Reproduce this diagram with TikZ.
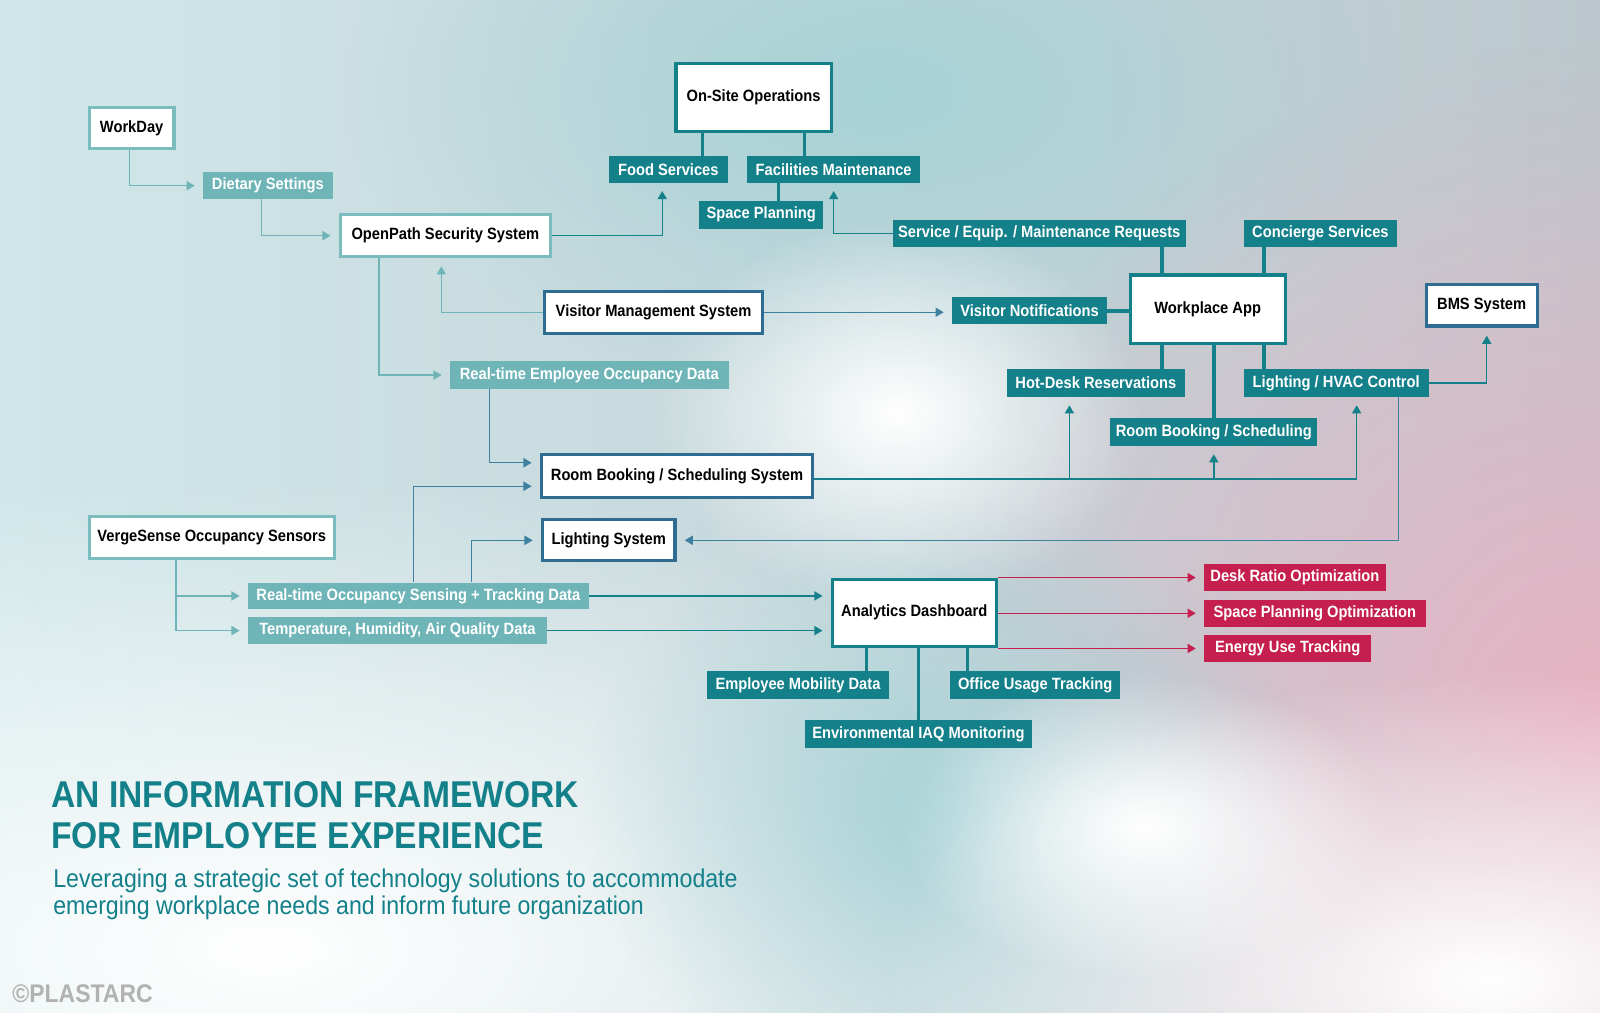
\documentclass[tikz,border=0pt]{standalone}
\usepackage{fontspec}
\setmainfont{Liberation Sans}[FakeStretch=0.9]
\usetikzlibrary{arrows.meta,calc,positioning,fadings}
\definecolor{darkteal}{HTML}{13808A}
\definecolor{lightteal}{HTML}{6FB5B8}
\definecolor{lightedge}{HTML}{7BBCBF}
\definecolor{steel}{HTML}{2E6D91}
\definecolor{steelline}{HTML}{3F7FA0}
\definecolor{crimson}{HTML}{C41F4E}
\definecolor{bgl}{HTML}{D0E7E9}
\definecolor{bgm}{HTML}{A7D2D6}
\definecolor{bgr}{HTML}{BCC8CD}
\definecolor{bgpink}{HTML}{E8B4C4}
\tikzfading[name=glow, inner color=transparent!0, outer color=transparent!100]

\begin{document}
\begin{tikzpicture}[x=1pt,y=-1pt,
  every node/.style={font=\fontsize{16}{19}\selectfont\bfseries, inner sep=3pt},
  sz/.style 2 args={minimum width=#1pt, minimum height=#2pt},
  box/.style={draw=#1, line width=3pt, fill=white, text=black},
  darklab/.style={fill=darkteal, text=white},
  lightlab/.style={fill=lightteal, text=white},
  redlab/.style={fill=crimson, text=white},
  stub/.style={draw=darkteal, line width=3.5pt},
  conn/.style={line width=1.4pt, -{Triangle[length=8pt,width=9pt]}, shorten >=8pt},
  lightconn/.style={conn, lightteal},
  tealconn/.style={conn, darkteal},
  steelconn/.style={conn, steelline},
  redconn/.style={conn, crimson}]
\useasboundingbox (0,0) rectangle (1568,992);
\shade[left color=bgl, middle color=bgm, right color=bgr] (0,0) rectangle (1568,992);
\fill[bgm, path fading=glow] (860,90) ellipse (520 and 300);
\fill[bgpink, path fading=glow] (1568,700) ellipse (680 and 660);
\fill[white, path fading=glow] (260,930) ellipse (1050 and 460);
\fill[bgm, path fading=glow] (930,790) ellipse (360 and 300);
\fill[white, path fading=glow] (880,405) ellipse (240 and 190);
\fill[white, path fading=glow] (1460,960) ellipse (600 and 300);
\fill[white, path fading=glow] (1120,810) ellipse (240 and 150);

\node[box=lightedge, sz={83}{40}] (workday) at (129,125.5) {WorkDay};
\node[lightlab, sz={127}{26}] (dietary) at (262.5,182) {Dietary Settings};
\node[box=lightedge, sz={206}{41}] (openpath) at (436.5,231) {OpenPath Security System};
\node[box=darkteal, sz={152}{66}] (onsite) at (738.5,95.5) {On-Site Operations};
\node[darklab, sz={116}{26}] (food) at (655,166) {Food Services};
\node[darklab, sz={170}{26}] (facilities) at (817,166) {Facilities Maintenance};
\node[darklab, sz={122}{27}] (spaceplan) at (746,210.5) {Space Planning};
\node[darklab, sz={287}{26}] (servicereq) at (1018.5,229) {Service / Equip. / Maintenance Requests};
\node[darklab, sz={150}{26}] (concierge) at (1294,229) {Concierge Services};
\node[box=steel, sz={214}{41}] (vms) at (640.5,306) {Visitor Management System};
\node[darklab, sz={152}{27}] (visitornotif) at (1009,304.5) {Visitor Notifications};
\node[box=darkteal, sz={152}{67}] (workplace) at (1183.5,303) {Workplace App};
\node[box=steel, sz={109}{41}] (bms) at (1452,299) {BMS System};
\node[lightlab, sz={273}{27}] (empocc) at (577.5,367.5) {Real-time Employee Occupancy Data};
\node[darklab, sz={174}{27}] (hotdesk) at (1074,375.5) {Hot-Desk Reservations};
\node[darklab, sz={181}{27}] (hvac) at (1309.5,375.5) {Lighting / HVAC Control};
\node[darklab, sz={203}{27}] (roomsched) at (1189.5,423.5) {Room Booking / Scheduling};
\node[box=steel, sz={266}{42}] (roombook) at (663.5,466.5) {Room Booking / Scheduling System};
\node[box=steel, sz={130}{40}] (lightsys) at (596.5,529.5) {Lighting System};
\node[box=lightedge, sz={240}{41}] (verge) at (207.5,527) {VergeSense Occupancy Sensors};
\node[lightlab, sz={334}{26}] (sensing) at (410,584) {Real-time Occupancy Sensing + Tracking Data};
\node[lightlab, sz={293}{26}] (temp) at (389.5,618) {Temperature, Humidity, Air Quality Data};
\node[box=darkteal, sz={161}{66}] (analytics) at (896,600.5) {Analytics Dashboard};
\node[redlab, sz={178}{26}] (desk) at (1269,566) {Desk Ratio Optimization};
\node[redlab, sz={217}{26}] (spaceopt) at (1288.5,601) {Space Planning Optimization};
\node[redlab, sz={164}{27}] (energy) at (1262,635.5) {Energy Use Tracking};
\node[darklab, sz={178}{27}] (mobility) at (782,671.5) {Employee Mobility Data};
\node[darklab, sz={167}{27}] (office) at (1014.5,671.5) {Office Usage Tracking};
\node[darklab, sz={222}{27}] (iaq) at (900,719.5) {Environmental IAQ Monitoring};

\coordinate (os1) at ([xshift=-50]onsite.south);
\coordinate (os2) at ([xshift=50]onsite.south);
\coordinate (fm1) at ([xshift=-54]facilities.south);
\draw[stub] (os1) -- (os1 |- food.north);
\draw[stub] (os2) -- (os2 |- facilities.north);
\draw[stub] (fm1) -- (fm1 |- spaceplan.north);
\coordinate (wa1) at ([xshift=-45]workplace.north);
\coordinate (wa2) at ([xshift=55]workplace.north);
\draw[stub] (wa1) -- (wa1 |- servicereq.south);
\draw[stub] (wa2) -- (wa2 |- concierge.south);
\draw[stub] (visitornotif.east) -- (visitornotif.east -| workplace.west);
\draw[stub] (wa1 |- workplace.south) -- (wa1 |- hotdesk.north);
\draw[stub] (wa2 |- workplace.south) -- (wa2 |- hvac.north);
\draw[stub] (roomsched.north |- workplace.south) -- (roomsched.north);
\coordinate (ad1) at ([xshift=-47]analytics.south);
\coordinate (ad2) at ([xshift=52]analytics.south);
\draw[stub] (ad1) -- (ad1 |- mobility.north);
\draw[stub] (ad2) -- (ad2 |- office.north);
\draw[stub] (iaq.north |- analytics.south) -- (iaq.north);

\draw[lightconn] ([xshift=-2]workday.south) |- (dietary.west);
\draw[lightconn] ([xshift=-6]dietary.south) |- (openpath.west);
\draw[lightconn] ([xshift=-65]openpath.south) |- (empocc.west);
\draw[lightconn] (vms.west) -| ([xshift=-4]openpath.south);
\draw[tealconn] (openpath.east) -| ([xshift=-6]food.south);
\draw[tealconn] (servicereq.west) -| (facilities.south);
\draw[steelconn] (vms.east) -- (vms.east -| visitornotif.west);
\draw[steelconn] ([xshift=-98]empocc.south) |- ([yshift=13]roombook.west);
\coordinate (rb) at ([yshift=-3]roombook.east);
\coordinate (hd) at ([xshift=-26]hotdesk.south);
\draw[tealconn] (rb) -| ([xshift=20]hvac.south);
\draw[tealconn] (hd |- rb) -- (hd);
\draw[tealconn] (roomsched.south |- rb) -- (roomsched.south);
\draw[tealconn] (hvac.east) -| ([xshift=5]bms.south);
\draw[steelconn] ([xshift=61]hvac.south) |- (lightsys.east);
\draw[steelconn] ([xshift=-5]sensing.north) |- ([yshift=-10]roombook.west);
\draw[steelconn] ([xshift=52]sensing.north) |- (lightsys.west);
\draw[tealconn] (sensing.east) -- (sensing.east -| analytics.west);
\draw[tealconn] (temp.east) -- (temp.east -| analytics.west);
\coordinate (vs) at ([xshift=-35]verge.south);
\draw[lightconn] (vs) |- (sensing.west);
\draw[lightconn] (vs) |- (temp.west);
\draw[redconn] (analytics.east |- desk.west) -- (desk.west);
\draw[redconn] (analytics.east |- spaceopt.west) -- (spaceopt.west);
\draw[redconn] (analytics.east |- energy.west) -- (energy.west);

\node[anchor=north west, inner sep=0, align=left, text=darkteal, font=\fontsize{36.6}{40}\selectfont\bfseries] (title) at (50,766) {AN INFORMATION FRAMEWORK\\FOR EMPLOYEE EXPERIENCE};
\node[anchor=north west, inner sep=0, align=left, text=darkteal, font=\fontsize{25.2}{27}\selectfont] (subtitle) at (52,851) {Leveraging a strategic set of technology solutions to accommodate\\emerging workplace needs and inform future organization};
\node[anchor=west, inner sep=0, text=black!30, font=\fontsize{25}{28}\selectfont\bfseries] (copyright) at (12,974) {©PLASTARC};
\end{tikzpicture}
\end{document}
